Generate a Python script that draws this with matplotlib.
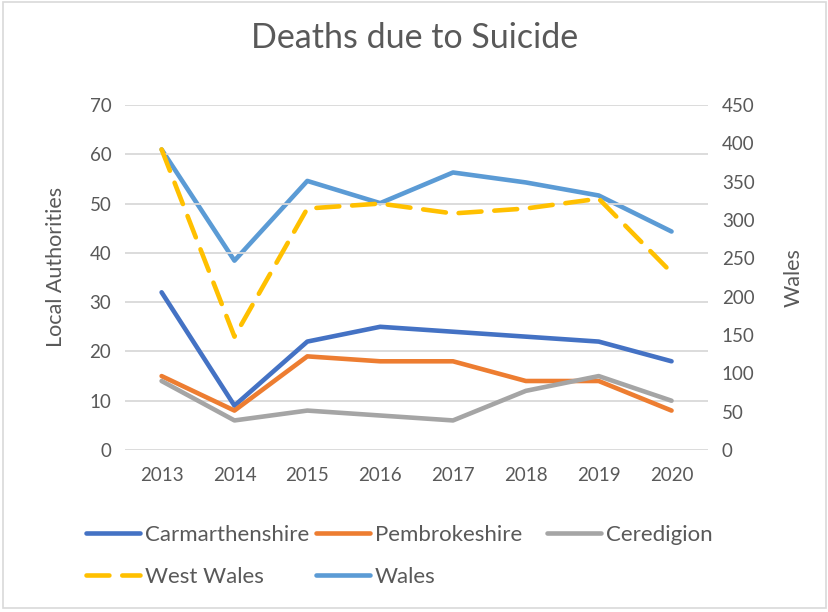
import matplotlib
matplotlib.use("Agg")
import matplotlib.pyplot as plt
from matplotlib.patches import Rectangle

years = ["2013", "2014", "2015", "2016", "2017", "2018", "2019", "2020"]
carmarthenshire = [32, 9, 22, 25, 24, 23, 22, 18]
pembrokeshire = [15, 8, 19, 18, 18, 14, 14, 8]
ceredigion = [14, 6, 8, 7, 6, 12, 15, 10]
west_wales = [61, 23, 49, 50, 48, 49, 51, 36]
wales = [392, 247, 351, 322, 362, 349, 332, 285]

left_ticks = [0, 10, 20, 30, 40, 50, 60, 70]
right_ticks = [0, 50, 100, 150, 200, 250, 300, 350, 400, 450]

TEXT = "#595959"
GRID = "#D9D9D9"
plt.rcParams["font.family"] = ["Lato", "DejaVu Sans"]

fig = plt.figure(figsize=(8.29, 6.12), dpi=100)
ax2 = fig.add_axes([0.151, 0.2647, 0.703, 0.5637])
ax = ax2.twinx()  # local-authority series drawn on top of the Wales line

x = list(range(len(years)))
lw = 3.3
l5, = ax2.plot(x, wales, color="#5B9BD5", lw=lw, label="Wales", solid_capstyle="round")
l1, = ax.plot(x, carmarthenshire, color="#4472C4", lw=lw, label="Carmarthenshire", solid_capstyle="round")
l2, = ax.plot(x, pembrokeshire, color="#ED7D31", lw=lw, label="Pembrokeshire", solid_capstyle="round")
l3, = ax.plot(x, ceredigion, color="#A5A5A5", lw=lw, label="Ceredigion", solid_capstyle="round")
l4, = ax.plot(x, west_wales, color="#FFC000", lw=lw, label="West Wales",
              linestyle=(0, (5, 2.8)), dash_capstyle="round")

ax2.set_xlim(-0.5, len(years) - 0.5)
ax.set_ylim(0, 70)
ax2.set_ylim(0, 450)
ax.set_yticks(left_ticks)
ax2.set_yticks(right_ticks)
ax2.set_xticks(x)
ax2.set_xticklabels(years)
ax.yaxis.grid(True, color=GRID, lw=1.3)
ax.set_axisbelow(True)

# left-hand axis for local authorities, right-hand axis for Wales
ax.yaxis.tick_left()
ax.yaxis.set_label_position("left")
ax2.yaxis.tick_right()
ax2.yaxis.set_label_position("right")

for a in (ax, ax2):
    for s in a.spines.values():
        s.set_visible(False)
    a.tick_params(length=0, labelsize=13.5, colors=TEXT, pad=10)
ax2.tick_params(axis="x", pad=12)
ax2.patch.set_visible(False)

ax.set_ylabel("Local Authorities", fontsize=15.5, color=TEXT)
ax.yaxis.set_label_coords(-0.101, 0.53)
ax2.set_ylabel("Wales", fontsize=15.5, color=TEXT)
ax2.yaxis.set_label_coords(1.130, 0.5)

fig.text(0.5, 0.938, "Deaths due to Suicide", ha="center", va="center",
         fontsize=24.5, color=TEXT)

# legend laid out as three equal-width columns
columns = [[l1, l4], [l2, l5], [l3]]
col_x = [86, 316, 547]
for hs, cx in zip(columns, col_x):
    lg = fig.legend(hs, [h.get_label() for h in hs], loc="upper left",
                    bbox_to_anchor=(cx / 829, 1 - 525 / 612), frameon=False,
                    fontsize=16, labelcolor=TEXT, handlelength=2.45,
                    handletextpad=0.2, labelspacing=1.0,
                    borderpad=0, borderaxespad=0)

fig.patches.append(Rectangle((0.004, 0.006), 0.992, 0.99, transform=fig.transFigure,
                             fill=False, edgecolor=GRID, lw=1.2))

fig.savefig("out.png", dpi=100)
